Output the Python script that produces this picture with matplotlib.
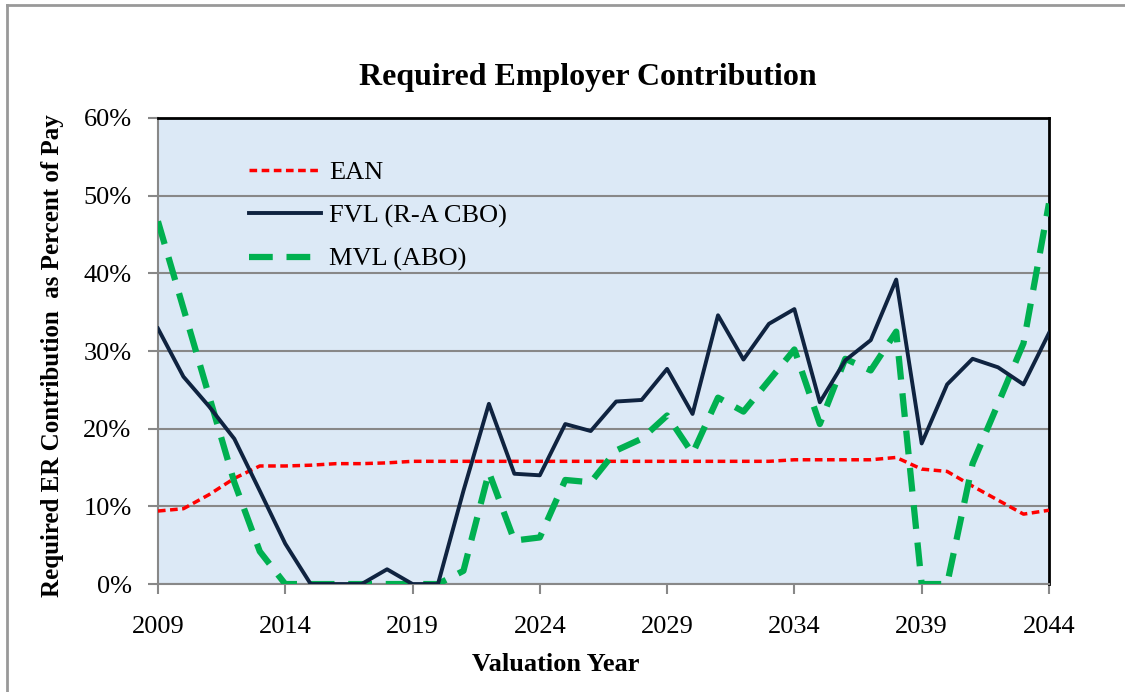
import numpy as np
import matplotlib
matplotlib.use("Agg")
import matplotlib.pyplot as plt
from matplotlib.ticker import PercentFormatter

# data (percent of pay)
years = np.arange(2009, 2045)
ean = [9.4, 9.7, 11.5, 13.6, 15.2, 15.2, 15.3, 15.5, 15.5, 15.6, 15.8, 15.8,
       15.8, 15.8, 15.8, 15.8, 15.8, 15.8, 15.8, 15.8, 15.8, 15.8, 15.8, 15.8,
       15.8, 16.0, 16.0, 16.0, 16.0, 16.3, 14.8, 14.5, 12.6, 10.8, 9.0, 9.5]
fvl = [32.9, 26.7, 22.9, 18.7, 12.0, 5.2, 0.0, 0.0, 0.0, 1.9, 0.0, 0.0,
       12.0, 23.2, 14.2, 14.0, 20.6, 19.7, 23.5, 23.7, 27.7, 21.9, 34.6, 28.9,
       33.5, 35.4, 23.4, 28.8, 31.4, 39.2, 18.1, 25.7, 29.0, 27.9, 25.7, 32.3]
mvl = [46.7, 35.5, 24.3, 13.1, 4.2, 0.0, 0.0, 0.0, 0.0, 0.0, 0.0, 0.0,
       1.7, 14.4, 5.6, 6.0, 13.4, 13.1, 17.2, 18.7, 21.7, 16.8, 24.0, 22.2,
       26.2, 30.2, 20.6, 29.0, 27.5, 32.5, 0.0, 0.0, 15.5, 23.2, 31.0, 49.0]
xticks = [2009, 2014, 2019, 2024, 2029, 2034, 2039, 2044]

plt.rcParams['font.family'] = ['Liberation Serif', 'DejaVu Serif']

fig = plt.figure(figsize=(11.25, 6.92), dpi=100)
ax = fig.add_axes([0.1404, 0.156, 0.792, 0.6735])
ax.set_facecolor('#dce9f6')

ax.plot(years, ean, color='#ff0000', lw=2.5, ls=(0, (2.2, 1.3)), label='EAN', zorder=3)
ax.plot(years, fvl, color='#0f2340', lw=2.8, label='FVL (R-A CBO)', zorder=4)
ax.plot(years, mvl, color='#00b050', lw=4.5, ls=(0, (3.8, 2.2)), label='MVL (ABO)', zorder=3)

ax.set_xlim(2009, 2044)
ax.set_ylim(0, 60)
ax.set_xticks(xticks)
ax.set_yticks(np.arange(0, 61, 10))
ax.yaxis.set_major_formatter(PercentFormatter(decimals=0))
ax.grid(axis='y', color='#888888', lw=1.5)
ax.set_axisbelow(True)

for s in ['left', 'bottom']:
    ax.spines[s].set_color('#888888')
    ax.spines[s].set_linewidth(1.5)
for s in ['top', 'right']:
    ax.spines[s].set_color('black')
    ax.spines[s].set_linewidth(2)
ax.tick_params(axis='both', labelsize=19, direction='out', length=7,
               width=1.5, color='#888888', pad=12)
ax.tick_params(axis='x', pad=16)

ax.set_title('Required Employer Contribution', fontsize=23, fontweight='bold',
             pad=24, x=0.482)
ax.set_xlabel('Valuation Year', fontsize=19, fontweight='bold')
ax.xaxis.set_label_coords(0.446, -0.148)
ax.set_ylabel('Required ER Contribution  as Percent of Pay', fontsize=18,
              fontweight='bold')
ax.yaxis.set_label_coords(-0.105, 0.49)

ax.legend(loc='upper left', bbox_to_anchor=(0.075, 0.96), frameon=False,
          fontsize=19, handlelength=2.75, handletextpad=0.3, labelspacing=0.75)

# grey frame around the chart
fig.add_artist(plt.Line2D([0.0062, 0.0062], [0, 0.9928], color='#999999', lw=2,
                          transform=fig.transFigure))
fig.add_artist(plt.Line2D([0.0062, 1], [0.9928, 0.9928], color='#999999', lw=2,
                          transform=fig.transFigure))

fig.savefig('out.png', dpi=100)
